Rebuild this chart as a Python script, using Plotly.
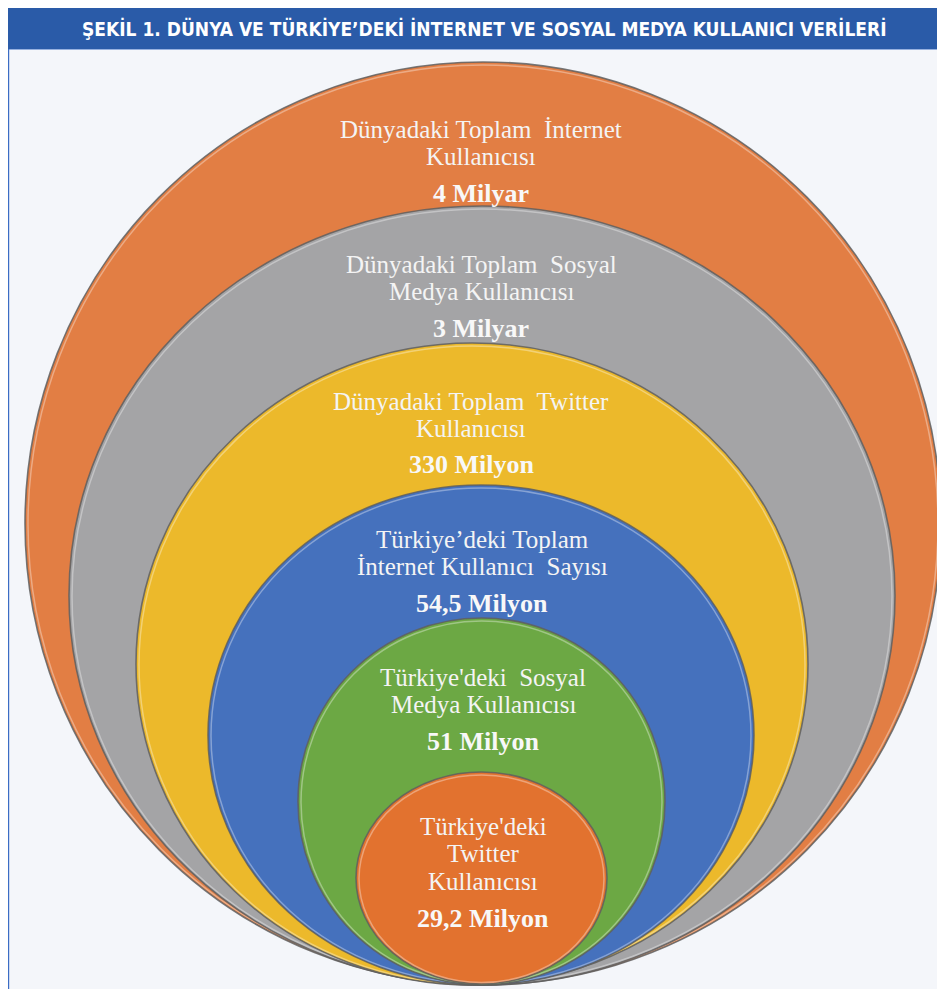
import plotly.graph_objects as go

# ---- data ----
title_text = "ŞEKİL 1. DÜNYA VE TÜRKİYE’DEKİ İNTERNET VE SOSYAL MEDYA KULLANICI VERİLERİ"
categories = [
    "Dünyadaki Toplam\u00a0 İnternet\nKullanıcısı",
    "Dünyadaki Toplam\u00a0 Sosyal\nMedya Kullanıcısı",
    "Dünyadaki Toplam\u00a0 Twitter\nKullanıcısı",
    "Türkiye’deki Toplam\nİnternet Kullanıcı\u00a0 Sayısı",
    "Türkiye'deki\u00a0 Sosyal\nMedya Kullanıcısı",
    "Türkiye'deki\nTwitter\nKullanıcısı",
]
value_labels = ["4 Milyar", "3 Milyar", "330 Milyon", "54,5 Milyon", "51 Milyon", "29,2 Milyon"]

# ---- geometry (screen pixel coordinates) ----
ellipses = [  # x0, x1, y0 (top), y1 (bottom)
    (25, 941, 62, 985),
    (69, 895, 206, 985),
    (136, 808, 343, 985),
    (208, 754, 485, 985),
    (298, 665, 618, 985),
    (356, 607, 772, 984),
]
fills = ["#E27E44", "#A4A4A6", "#ECB92B", "#4571BD", "#6CA844", "#E2722F"]
text_x = [481, 481, 471, 482, 483, 483]
first_line_y = [129, 264, 401, 539, 677, 826]
value_y = [193, 328, 464, 603, 741, 918]
line_gap = 27.5

W, H = 945, 989
OFF = 8  # default page body margin
fig = go.Figure()
fig.add_trace(go.Scatter(x=[OFF, W], y=[OFF, H], mode="markers", marker=dict(opacity=0),
                         hoverinfo="skip", showlegend=False))

shapes = []
shapes.append(dict(type="rect", x0=8.6, x1=W + 2, y0=49, y1=H + 2, fillcolor="#F4F6FA",
                   line=dict(color="#3B6CC4", width=1.2), layer="below"))
shapes.append(dict(type="rect", x0=7, x1=W + 2, y0=6, y1=49, fillcolor="#2A5BA8",
                   line=dict(width=0), layer="below"))

for (x0, x1, y0, y1), fc in zip(ellipses, fills):
    shapes.append(dict(type="circle", x0=x0, x1=x1, y0=y0, y1=y1, fillcolor=fc,
                       line=dict(color="rgba(95,95,95,0.85)", width=1.6), layer="above"))
    shapes.append(dict(type="circle", x0=x0 + 3, x1=x1 - 3, y0=y0 + 3, y1=y1 - 1.5,
                       fillcolor="rgba(0,0,0,0)",
                       line=dict(color="rgba(255,255,255,0.35)", width=1.5), layer="above"))

annotations = [dict(x=484, y=28, text="<b>" + title_text + "</b>", showarrow=False,
                    font=dict(family="Liberation Sans Narrow, DejaVu Sans Condensed, Arial Narrow, sans-serif",
                              size=19, color="white"), xanchor="center", yanchor="middle")]

serif = "Liberation Serif, Times New Roman, serif"
for cat, val, tx, ty, vy in zip(categories, value_labels, text_x, first_line_y, value_y):
    for i, line in enumerate(cat.split("\n")):
        annotations.append(dict(x=tx, y=ty + i * line_gap, text=line, showarrow=False,
                                font=dict(family=serif, size=25, color="#F4F4F4"),
                                xanchor="center", yanchor="middle"))
    annotations.append(dict(x=tx, y=vy, text="<b>" + val + "</b>", showarrow=False,
                            font=dict(family=serif, size=26, color="#F8F8F8"),
                            xanchor="center", yanchor="middle"))

fig.update_layout(
    width=W - OFF, height=H - OFF, margin=dict(l=0, r=0, t=0, b=0),
    paper_bgcolor="white", plot_bgcolor="white",
    xaxis=dict(range=[OFF, W], visible=False, fixedrange=True),
    yaxis=dict(range=[H, OFF], visible=False, fixedrange=True),
    shapes=shapes, annotations=annotations, showlegend=False,
)
fig.write_html("out.html")
